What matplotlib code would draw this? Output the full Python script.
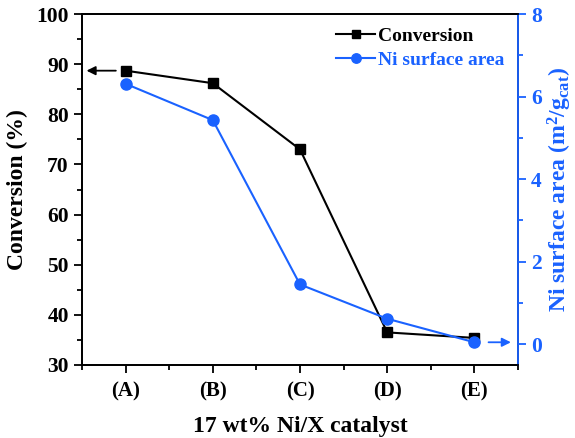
import matplotlib
matplotlib.use('Agg')
import matplotlib.pyplot as plt
from matplotlib.ticker import AutoMinorLocator, MultipleLocator

catalysts = ['(A)', '(B)', '(C)', '(D)', '(E)']
conversion = [88.7, 86.2, 73.0, 36.5, 35.4]
ni_area = [6.31, 5.43, 1.45, 0.62, 0.05]

blue = '#1a62ff'

plt.rcParams['font.family'] = 'Liberation Serif'
plt.rcParams['font.weight'] = 'bold'
plt.rcParams['mathtext.fontset'] = 'custom'
plt.rcParams['mathtext.rm'] = 'Liberation Serif:bold'
plt.rcParams['mathtext.it'] = 'Liberation Serif:bold'
plt.rcParams['mathtext.bf'] = 'Liberation Serif:bold'

fig = plt.figure(figsize=(5.75, 4.38), dpi=100)
ax = fig.add_axes([0.1426, 0.1667, 0.7583, 0.8013])
ax2 = ax.twinx()

x = list(range(len(catalysts)))
l1, = ax.plot(x, conversion, color='black', marker='s', markersize=6.5, lw=1.5, label='Conversion')
l2, = ax2.plot(x, ni_area, color=blue, marker='o', markersize=8, lw=1.5, label='Ni surface area')

ax.set_xlim(-0.5, 4.5)
ax.set_ylim(30, 100)
ax2.set_ylim(-0.5, 8)
ax.set_xticks(x)
ax.set_xticklabels(catalysts)
ax.xaxis.set_minor_locator(AutoMinorLocator(2))
ax.yaxis.set_major_locator(MultipleLocator(10))
ax.yaxis.set_minor_locator(AutoMinorLocator(2))
ax2.yaxis.set_major_locator(MultipleLocator(2))
ax2.yaxis.set_minor_locator(AutoMinorLocator(2))

for a in (ax, ax2):
    for s in a.spines.values():
        s.set_linewidth(1.3)
ax.tick_params(axis='both', which='major', direction='out', length=6, width=1.3, labelsize=15.5)
ax.tick_params(axis='both', which='minor', direction='out', length=3.5, width=1.3)
ax.tick_params(axis='x', pad=6, labelsize=15)
ax2.tick_params(axis='y', which='major', direction='out', length=6, width=1.3, labelsize=15.5,
                colors=blue)
ax2.tick_params(axis='y', which='minor', direction='out', length=3.5, width=1.3, colors=blue)
ax2.spines['right'].set_color(blue)

ax.set_xlabel('17 wt% Ni/X catalyst', fontsize=17, fontweight='bold', labelpad=10)
ax.set_ylabel('Conversion (%)', fontsize=17, fontweight='bold', labelpad=6)
ax2.set_ylabel('Ni surface area (m$^2$/g$_{cat}$)', fontsize=17, fontweight='bold',
               color=blue, labelpad=3)

# arrows pointing to the matching axis
ax.annotate('', xy=(-0.48, conversion[0]), xytext=(-0.08, conversion[0]),
            arrowprops=dict(arrowstyle='-|>', color='black', lw=1.3, mutation_scale=13))
ax2.annotate('', xy=(4.45, ni_area[-1]), xytext=(4.13, ni_area[-1]),
             arrowprops=dict(arrowstyle='-|>', color=blue, lw=1.3, mutation_scale=13))

leg = ax.legend(handles=[l1, l2], loc='upper right', bbox_to_anchor=(1.0, 1.0), frameon=False,
                fontsize=14, handlelength=2.0, handletextpad=0.15, labelspacing=0.3,
                borderaxespad=0.3, markerscale=0.85)
for t, c in zip(leg.get_texts(), ['black', blue]):
    t.set_color(c)
    t.set_fontweight('bold')

fig.savefig('out.png', dpi=100)
